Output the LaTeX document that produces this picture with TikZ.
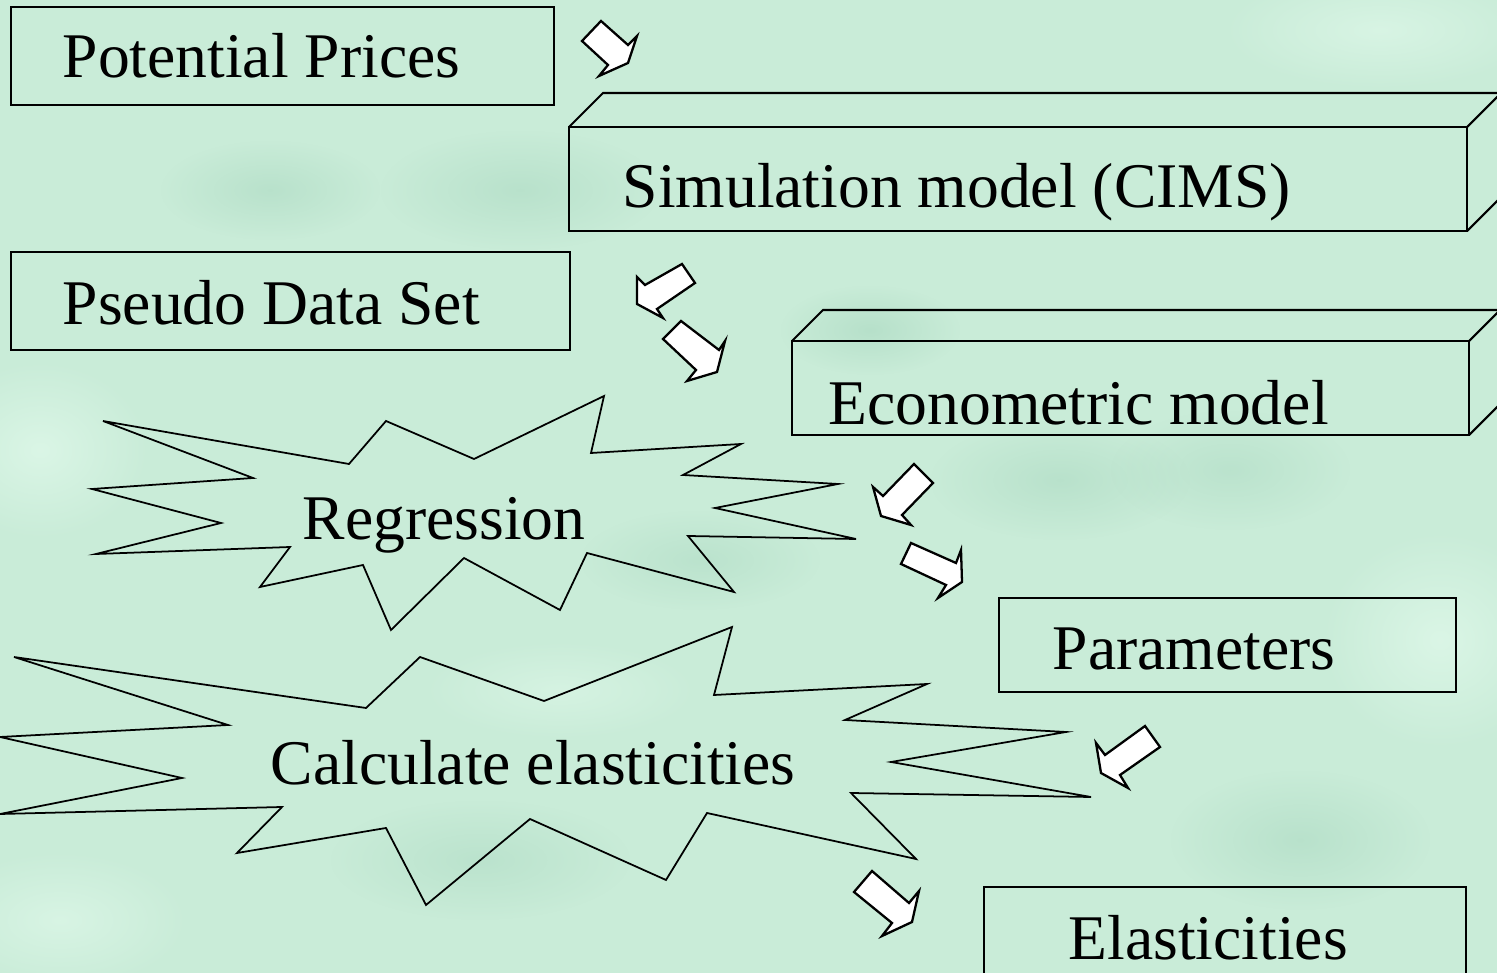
\documentclass[tikz,border=0pt]{standalone}
\usepackage{fontspec}
\setmainfont{Liberation Serif}
\usetikzlibrary{fadings}
\definecolor{mint}{RGB}{201,236,216}
\definecolor{mintdark}{RGB}{160,210,185}
\definecolor{mintlight}{RGB}{226,250,236}
\tikzfading[name=softblob, inner color=transparent!0, outer color=transparent!100]
\tikzset{
  boxline/.style={draw=black, line width=0.6pt},
  burst/.style={draw=black, line width=0.5pt, line join=miter},
  blockarrow/.style={draw=black, fill=white, line width=0.65pt, line join=miter},
  lbl/.style={inner sep=0pt, anchor=base west, font=\fontsize{18.1}{22}\selectfont},
  blob/.style={path fading=softblob},
}
\begin{document}
\begin{tikzpicture}[x=0.1mm, y=-0.1mm]
\useasboundingbox (0,0) rectangle (1497,973);
% background texture
\fill[mint] (0,0) rectangle (1497,973);
\clip (0,0) rectangle (1497,973);
\fill[mintdark, opacity=0.45, blob] (870,330) ellipse (90 and 45);
\fill[mintdark, opacity=0.40, blob] (520,190) ellipse (140 and 60);
\fill[mintdark, opacity=0.40, blob] (270,190) ellipse (110 and 50);
\fill[mintdark, opacity=0.40, blob] (1060,480) ellipse (130 and 60);
\fill[mintdark, opacity=0.40, blob] (1300,840) ellipse (130 and 70);
\fill[mintdark, opacity=0.35, blob] (1230,470) ellipse (120 and 60);
\fill[mintdark, opacity=0.35, blob] (480,860) ellipse (150 and 60);
\fill[mintdark, opacity=0.35, blob] (700,560) ellipse (120 and 50);
\fill[mintlight, opacity=0.7, blob] (40,450) ellipse (110 and 90);
\fill[mintlight, opacity=0.7, blob] (1440,640) ellipse (120 and 110);
\fill[mintlight, opacity=0.6, blob] (1380,30) ellipse (160 and 60);
\fill[mintlight, opacity=0.6, blob] (60,920) ellipse (130 and 70);
\fill[mintlight, opacity=0.5, blob] (560,690) ellipse (140 and 50);

% flat boxes
\draw[boxline] (11,7) rectangle (554,105);
\node[lbl] (potential) at (62,78) {Potential Prices};

\draw[boxline] (11,252) rectangle (570,350);
\node[lbl] (pseudo) at (62,325) {Pseudo Data Set};

\draw[boxline] (999,598) rectangle (1456,692);
\node[lbl] (params) at (1052,670) {Parameters};

\draw[boxline] (984,887) rectangle (1466,1000);
\node[lbl] (elast) at (1068,960) {Elasticities};

% cube boxes
\draw[boxline] (569,127) rectangle (1467,231);
\draw[boxline] (569,127) -- (603,93) -- (1501,93) -- (1467,127);
\draw[boxline] (1501,197) -- (1467,231);
\node[lbl] (sim) at (622,208) {Simulation model (CIMS)};

\draw[boxline] (792,341) rectangle (1469,435);
\draw[boxline] (792,341) -- (823,310) -- (1500,310) -- (1469,341);
\draw[boxline] (1500,404) -- (1469,435);
\node[lbl] (econ) at (828,425) {Econometric model};

% bursts
\draw[burst] (103,421) -- (349,464) -- (386,421) -- (474,459) -- (604,396)
  -- (591,453) -- (741,444) -- (683,475) -- (838,484) -- (715,508)
  -- (856,539) -- (688,536) -- (734,592) -- (587,553) -- (560,610)
  -- (464,558) -- (391,630) -- (363,565) -- (260,587) -- (290,547)
  -- (96,554) -- (221,523) -- (92,489) -- (253,478) -- cycle;
\node[lbl] (regr) at (302,540) {Regression};

\draw[burst] (14,657) -- (366,708) -- (420,657) -- (544,701) -- (732,627)
  -- (714,695) -- (927,684) -- (845,720) -- (1066,732) -- (891,762)
  -- (1091,797) -- (851,793) -- (916,859) -- (707,813) -- (666,880)
  -- (530,819) -- (426,905) -- (386,828) -- (237,853) -- (282,807)
  -- (0,814) -- (182,778) -- (0,737) -- (228,725) -- cycle;
\node[lbl] (calc) at (270,785) {Calculate elasticities};

% block arrows
\draw[blockarrow] (582,41) -- (601,21) -- (628,45) -- (637,36) -- (628,63)
  -- (599,76) -- (608,65) -- cycle;
\draw[blockarrow] (645,285) -- (682,264) -- (695,283) -- (657,309) -- (663,318)
  -- (637,304) -- (637,277) -- cycle;
\draw[blockarrow] (663,339) -- (681,321) -- (719,350) -- (725,341) -- (717,372)
  -- (687,381) -- (696,370) -- cycle;
\draw[blockarrow] (883,496) -- (914,464) -- (933,483) -- (902,515) -- (911,525)
  -- (881,516) -- (873,487) -- cycle;
\draw[blockarrow] (901,564) -- (911,543) -- (956,563) -- (961,550) -- (962,582)
  -- (938,598) -- (946,585) -- cycle;
\draw[blockarrow] (1105,755) -- (1145,726) -- (1160,747) -- (1120,775) -- (1128,788)
  -- (1101,773) -- (1096,743) -- cycle;
\draw[blockarrow] (854,892) -- (872,871) -- (909,903) -- (919,891) -- (912,922)
  -- (882,936) -- (892,923) -- cycle;
\end{tikzpicture}
\end{document}
